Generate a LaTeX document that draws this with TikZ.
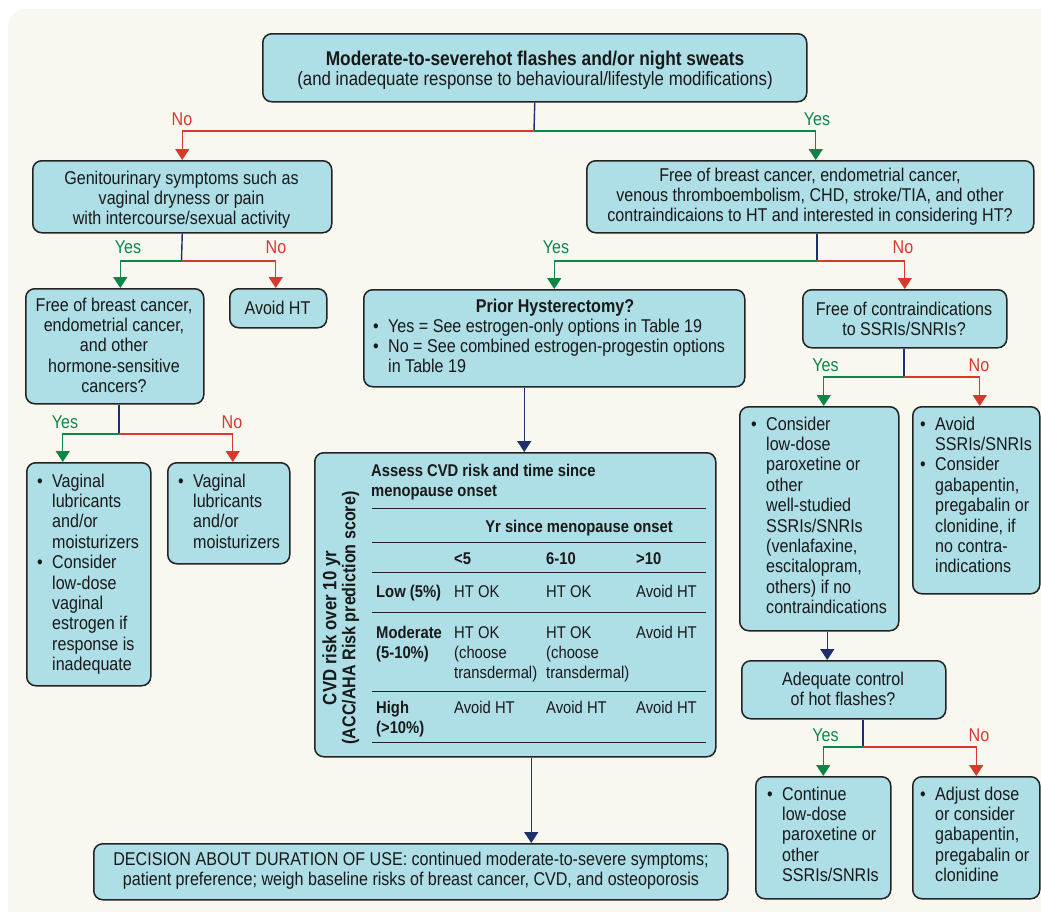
\documentclass[tikz,border=0pt]{standalone}
\usepackage{fontspec}
\setmainfont[FakeStretch=0.87]{Liberation Sans}
\usetikzlibrary{arrows.meta}
\definecolor{cream}{RGB}{248,247,240}
\definecolor{boxc}{RGB}{174,222,230}
\definecolor{edgec}{RGB}{35,35,35}
\definecolor{redc}{RGB}{216,57,45}
\definecolor{greenc}{RGB}{10,135,70}
\definecolor{navyc}{RGB}{28,48,110}
\newcommand{\bu}{\makebox[15pt][l]{\textbullet}}
\newcommand{\ctab}[1]{\begin{tabular}[t]{@{}c@{}}#1\end{tabular}}
\newcommand{\ltab}[1]{\begin{tabular}[t]{@{}l@{}}#1\end{tabular}}
\newcommand{\btab}[1]{\begin{tabular}[t]{@{}l@{}l@{}}#1\end{tabular}}
\begin{document}
\begin{tikzpicture}[x=1pt,y=-1pt,
  every node/.style={font=\fontsize{18.5}{20.4}\selectfont, inner sep=0pt, text=black!90},
  box/.style={draw=edgec, fill=boxc, line width=1.5pt, rounded corners=9pt, anchor=north west},
  txt/.style={anchor=base},
  btxt/.style={anchor=base west},
  tabtxt/.style={anchor=base west, font=\fontsize{17}{20.4}\selectfont},
  navyl/.style={draw=navyc, line width=1.4pt},
  redl/.style={draw=redc, line width=1.4pt},
  greenl/.style={draw=greenc, line width=1.4pt},
  arr/.style={-{Triangle[width=14pt,length=11pt]}},
  nolab/.style={text=redc, anchor=base},
  yeslab/.style={text=greenc, anchor=base},
  tabline/.style={draw=edgec, line width=1pt}
]
\useasboundingbox (0,0) rectangle (1041,911);
\begin{scope}
\clip (0,0) rectangle (1041,911);
\fill[cream, rounded corners=18pt] (8,9) rectangle (1080,950);
\end{scope}

% boxes
\node[box, minimum width=544pt, minimum height=68pt] (top) at (262,33) {};
\node[box, minimum width=299pt, minimum height=72pt] (genit) at (32,160) {};
\node[box, minimum width=447pt, minimum height=72pt] (rfree) at (586,160) {};
\node[box, minimum width=178pt, minimum height=115pt] (lfree) at (25,288) {};
\node[box, minimum width=97pt, minimum height=39pt] (avoidht) at (229,288) {};
\node[box, minimum width=381pt, minimum height=97pt] (prior) at (363,289) {};
\node[box, minimum width=204pt, minimum height=58pt] (fssri) at (802,289) {};
\node[box, minimum width=124pt, minimum height=223pt] (vag1) at (26,462) {};
\node[box, minimum width=122pt, minimum height=101pt] (vag2) at (167,462) {};
\node[box, minimum width=401pt, minimum height=304pt] (assess) at (314,452) {};
\node[box, minimum width=159pt, minimum height=224pt] (consider) at (739,406) {};
\node[box, minimum width=127pt, minimum height=187pt] (avoidssri) at (912,406) {};
\node[box, minimum width=204pt, minimum height=58pt] (adequate) at (741,660) {};
\node[box, minimum width=634pt, minimum height=56pt] (decision) at (93,843) {};
\node[box, minimum width=135pt, minimum height=122pt] (continue) at (755,776) {};
\node[box, minimum width=127pt, minimum height=122pt] (adjust) at (912,776) {};

% texts
\node[txt] (topt) at (535,65) {\ctab{\fontsize{19.9}{21}\selectfont\bfseries Moderate-to-severehot flashes and/or night sweats\\\fontsize{19.35}{21}\selectfont (and inadequate response to behavioural/lifestyle modifications)}};
\node[txt] (genitt) at (181.5,184) {\ctab{Genitourinary symptoms such as\\vaginal dryness or pain\\with intercourse/sexual activity}};
\node[txt] (rfreet) at (810,181) {\ctab{Free of breast cancer, endometrial cancer,\\venous thromboembolism, CHD, stroke/TIA, and other\\contraindicaions to HT and interested in considering HT?}};
\node[txt] (lfreet) at (114,311) {\ctab{Free of breast cancer,\\endometrial cancer,\\and other\\hormone-sensitive\\cancers?}};
\node[txt] (avoidhtt) at (277.5,314) {Avoid HT};
\node[txt] (priort) at (555,312) {\bfseries Prior Hysterectomy?};
\node[btxt] (priorb) at (373,332) {\btab{\bu & Yes = See estrogen-only options in Table 19\\ \bu & No = See combined estrogen-progestin options\\ & in Table 19}};
\node[txt] (fssrit) at (904,315) {\ctab{Free of contraindications\\to SSRIs/SNRIs?}};
\node[btxt] (vag1t) at (37,487) {\btab{\bu & Vaginal\\ & lubricants\\ & and/or\\ & moisturizers\\ \bu & Consider\\ & low-dose\\ & vaginal\\ & estrogen if\\ & response is\\ & inadequate}};
\node[btxt] (vag2t) at (178,487) {\btab{\bu & Vaginal\\ & lubricants\\ & and/or\\ & moisturizers}};
\node[btxt] (considert) at (751,430) {\btab{\bu & Consider\\ & low-dose\\ & paroxetine or\\ & other\\ & well-studied\\ & SSRIs/SNRIs\\ & (venlafaxine,\\ & escitalopram,\\ & others) if no\\ & contraindications}};
\node[btxt] (avoidssrit) at (920,430) {\btab{\bu & Avoid\\ & SSRIs/SNRIs\\ \bu & Consider\\ & gabapentin,\\ & pregabalin or\\ & clonidine, if\\ & no contra-\\ & indications}};
\node[txt] (adequatet) at (843,685) {\ctab{Adequate control\\of hot flashes?}};
\node[btxt] (continuet) at (767,800) {\btab{\bu & Continue\\ & low-dose\\ & paroxetine or\\ & other\\ & SSRIs/SNRIs}};
\node[btxt] (adjustt) at (920,800) {\btab{\bu & Adjust dose\\ & or consider\\ & gabapentin,\\ & pregabalin or\\ & clonidine}};
\node[txt] (decisiont) at (411,865) {\ctab{DECISION ABOUT DURATION OF USE: continued moderate-to-severe symptoms;\\patient preference; weigh baseline risks of breast cancer, CVD, and osteoporosis}};

% table inside assess
\node[tabtxt] (asst) at (371,476) {\ltab{\bfseries Assess CVD risk and time since\\\bfseries menopause onset}};
\foreach \yy in {508,542,572,612,691,742} \draw[tabline] (372,\yy) -- (706,\yy);
\node[tabtxt, anchor=base] (yr) at (579,532) {\bfseries Yr since menopause onset};
\node[tabtxt] (h1) at (454,564) {\bfseries <5};
\node[tabtxt] (h2) at (546,564) {\bfseries 6-10};
\node[tabtxt] (h3) at (636,564) {\bfseries >10};
\node[tabtxt] (r1) at (376,597) {\bfseries Low (5\%)};
\node[tabtxt] (c11) at (454,597) {HT OK};
\node[tabtxt] (c12) at (546,597) {HT OK};
\node[tabtxt] (c13) at (636,597) {Avoid HT};
\node[tabtxt] (r2) at (376,638) {\ltab{\bfseries Moderate\\\bfseries (5-10\%)}};
\node[tabtxt] (c21) at (454,638) {\ltab{HT OK\\(choose\\transdermal)}};
\node[tabtxt] (c22) at (546,638) {\ltab{HT OK\\(choose\\transdermal)}};
\node[tabtxt] (c23) at (636,638) {Avoid HT};
\node[tabtxt] (r3) at (376,713) {\ltab{\bfseries High\\\bfseries (>10\%)}};
\node[tabtxt] (c31) at (454,713) {Avoid HT};
\node[tabtxt] (c32) at (546,713) {Avoid HT};
\node[tabtxt] (c33) at (636,713) {Avoid HT};
\node[rotate=90, font=\fontsize{19.3}{21}\selectfont] (cvd1) at (331.5,628) {\bfseries CVD risk over 10 yr};
\node[rotate=90] (cvd2) at (350.5,618) {\bfseries (ACC/AHA Risk prediction score)};

% junctions
\coordinate (j1) at (534,131);
\coordinate (jg) at (181.5,261);
\coordinate (jr) at (817,261);
\coordinate (jl) at (119,434);
\coordinate (js) at (904,377);
\coordinate (ja) at (863,747);

% connectors
\draw[navyl] (top.south) -- (j1);
\draw[redl, arr] (j1) -| (genit.north);
\draw[greenl, arr] (j1) -| ([xshift=5.5pt]rfree.north);
\draw[navyl] (genit.south) -- (jg);
\draw[greenl, arr] (jg) -| ([xshift=5.5pt]lfree.north);
\draw[redl, arr] (jg) -| ([xshift=-2.5pt]avoidht.north);
\draw[navyl] (jr |- rfree.south) -- (jr);
\draw[greenl, arr] (jr) -| (prior.north);
\draw[redl, arr] (jr) -| (fssri.north);
\draw[navyl] (jl |- lfree.south) -- (jl);
\draw[greenl, arr] (jl) -| ([xshift=-26pt]vag1.north);
\draw[redl, arr] (jl) -| ([xshift=4pt]vag2.north);
\draw[navyl, arr] ([xshift=-30pt]prior.south) -- ([xshift=-30pt]prior.south |- assess.north);
\draw[navyl, arr] ([xshift=16pt]assess.south) -- ([xshift=16pt]assess.south |- decision.north);
\draw[navyl] (js |- fssri.south) -- (js);
\draw[greenl, arr] (js) -| ([xshift=4.5pt]consider.north);
\draw[redl, arr] (js) -| ([xshift=3.5pt]avoidssri.north);
\draw[navyl, arr] ([xshift=8pt]consider.south) -- ([xshift=8pt]consider.south |- adequate.north);
\draw[navyl] (ja |- adequate.south) -- (ja);
\draw[greenl, arr] (ja) -| (continue.north);
\draw[redl, arr] (ja) -| (adjust.north);

% labels
\node[nolab] (l1) at (182,125) {No};
\node[yeslab] (l2) at (817,125) {Yes};
\node[yeslab] (l3) at (128,253) {Yes};
\node[nolab] (l4) at (276,253) {No};
\node[yeslab] (l5) at (556,253) {Yes};
\node[nolab] (l6) at (903,253) {No};
\node[yeslab] (l7) at (65,428) {Yes};
\node[nolab] (l8) at (232,428) {No};
\node[yeslab] (l9) at (825.5,371) {Yes};
\node[nolab] (l10) at (979,371) {No};
\node[yeslab] (l11) at (825.5,741) {Yes};
\node[nolab] (l12) at (979,741) {No};
\end{tikzpicture}
\end{document}
